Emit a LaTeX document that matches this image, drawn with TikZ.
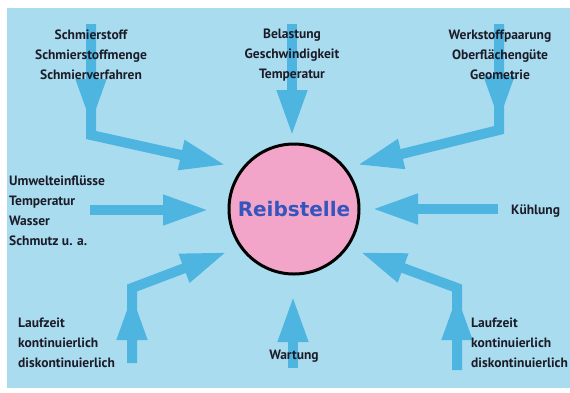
\documentclass[tikz,border=0pt]{standalone}
\usepackage{fontspec}
\setmainfont{PT Sans}
\newfontfamily\reibfont{DejaVu Sans}
\usetikzlibrary{arrows.meta}
\definecolor{bgblue}{HTML}{AADCF0}
\definecolor{arrblue}{HTML}{4DB5DF}
\definecolor{reibpink}{HTML}{F2A5C8}
\definecolor{reibtext}{HTML}{3455BE}
\definecolor{txtdark}{HTML}{1C1C28}
\pgfdeclarelayer{bg}
\pgfsetlayers{bg,main}
\tikzstyle{infl} = [font=\bfseries\fontsize{13.5}{20}\selectfont, text=txtdark, inner sep=0pt]
\tikzstyle{flow} = [draw=arrblue, line width=10pt, -{Triangle[length=46pt,width=28pt]}]

\begin{document}
\begin{tikzpicture}[x=1pt,y=-1pt]
\useasboundingbox (0,0) rectangle (570,392);

% Define nodes
\node[circle, fill=reibpink, draw=black, line width=3pt, minimum size=130pt] (reib) at (294,209)
  {\reibfont\bfseries\fontsize{20}{20}\selectfont\color{reibtext}Reibstelle};

\node[infl, align=center]            (schmier) at (91,55)  {Schmierstoff\\Schmierstoffmenge\\Schmierverfahren};
\node[infl, align=center]            (last)    at (292,55) {Belastung\\Geschwindigkeit\\Temperatur};
\node[infl, align=center]            (werk)    at (500,55) {Werkstoffpaarung\\Oberflächengüte\\Geometrie};
\node[infl, align=left, anchor=west] (umwelt)  at (9,211)  {Umwelteinflüsse\\Temperatur\\Wasser\\Schmutz u. a.};
\node[infl, anchor=west]             (kuehl)   at (511,211) {Kühlung};
\node[infl, align=left, anchor=west] (laufl)   at (18,343) {Laufzeit\\kontinuierlich\\diskontinuierlich};
\node[infl, align=left, anchor=west] (laufr)   at (471,343) {Laufzeit\\kontinuierlich\\diskontinuierlich};
\node[infl]                          (wart)    at (294,356) {Wartung};

% arrow points
\coordinate (s1) at (91,24);   \coordinate (m1) at (91,125);  \coordinate (c1) at (91,135);  \coordinate (t1) at (226,165);
\coordinate (s2) at (292,24);  \coordinate (t2) at (292,136);
\coordinate (s3) at (499,24);  \coordinate (m3) at (499,122); \coordinate (c3) at (499,130); \coordinate (t3) at (357,165);
\coordinate (s4) at (90,210);  \coordinate (t4) at (209,210);
\coordinate (s5) at (498,209); \coordinate (t5) at (372,209);
\coordinate (s6) at (132,363); \coordinate (m6) at (132,294); \coordinate (c6) at (132,288); \coordinate (t6) at (227,252);
\coordinate (s7) at (293,368); \coordinate (t7) at (293,296);
\coordinate (s8) at (457,370); \coordinate (m8) at (457,294); \coordinate (c8) at (457,288); \coordinate (t8) at (360,252);

% Edges
\begin{pgfonlayer}{bg}
\fill[bgblue] (7,8) rectangle (570,388);
\draw[flow] (s1) -- (c1) -- (t1);
\draw[flow] (s1) -- (m1);
\draw[flow] (s2) -- (t2);
\draw[flow] (s3) -- (c3) -- (t3);
\draw[flow] (s3) -- (m3);
\draw[flow] (s4) -- (t4);
\draw[flow] (s5) -- (t5);
\draw[flow] (s6) -- (c6) -- (t6);
\draw[flow] (s6) -- (m6);
\draw[flow] (s7) -- (t7);
\draw[flow] (s8) -- (c8) -- (t8);
\draw[flow] (s8) -- (m8);
\end{pgfonlayer}
\end{tikzpicture}
\end{document}
